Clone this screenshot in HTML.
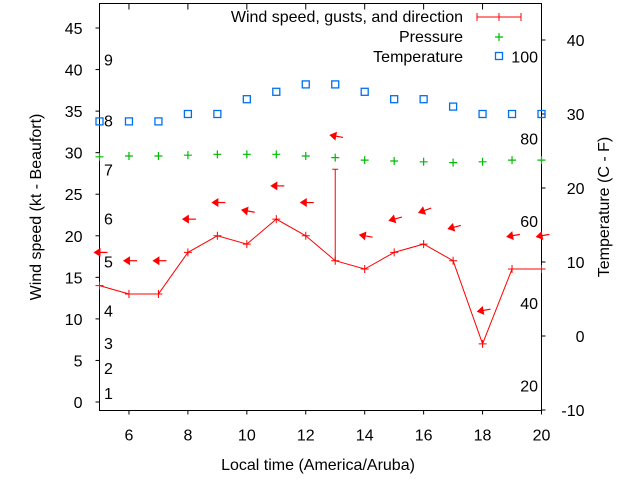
<!DOCTYPE html>
<html><head><meta charset="utf-8"><style>
body{margin:0;background:#fff}
svg{display:block;font-family:"Liberation Sans",sans-serif}
</style></head><body>
<svg id="chart" width="640" height="480" viewBox="0 0 640 480" xmlns="http://www.w3.org/2000/svg">
<rect width="640" height="480" fill="#fff"/>
<g id="grid"></g>
<g id="marks"></g>
<text x="318" y="470" font-size="16" text-anchor="middle">Local time (America/Aruba)</text>
<text transform="translate(41,207) rotate(-90)" font-size="16" text-anchor="middle">Wind speed (kt - Beaufort)</text>
<text transform="translate(609,207) rotate(-90)" font-size="16" text-anchor="middle">Temperature (C - F)</text>
<g font-size="16" text-anchor="end">
<text x="463" y="22">Wind speed, gusts, and direction</text>
<line x1="477" y1="17" x2="521" y2="17" stroke="#f00"/><line x1="477" y1="13" x2="477" y2="21" stroke="#f00"/><line x1="521" y1="13" x2="521" y2="21" stroke="#f00"/><line x1="499" y1="13" x2="499" y2="21" stroke="#f00"/>
<text x="463" y="42">Pressure</text>
<path d="M495 37h8M499 33v8" stroke="#0b0" stroke-width="1.2"/>
<text x="463" y="62">Temperature</text>
<rect x="495.5" y="52.5" width="7" height="7" fill="none" stroke="#0070f0" stroke-width="1.3"/>
</g>
</svg>
<script>
const hours=[5,6,7,8,9,10,11,12,13,14,15,16,17,18,19,20];
const windSpeed=[14,13,13,18,20,19,22,20,17,16,18,19,17,7,16,16];
const gustHour=[13];
const gustValue=[28];
const arrowLevel=[18,17,17,22,24,23,26,24,32,20,22,23,21,11,20,20];
const arrowTilt=[0,0,0,0,0,10,0,0,10,10,-15,-20,-15,-10,-10,-10];
const pressure=[29.5,29.6,29.6,29.7,29.8,29.8,29.8,29.6,29.4,29.1,29.0,28.9,28.8,28.9,29.1,29.1];
const tempC=[29,29,29,30,30,32,33,34,34,33,32,32,31,30,30,30];
const xTicks=[6,8,10,12,14,16,18,20];
const yTicks=[0,5,10,15,20,25,30,35,40,45];
const y2Ticks=[-10,0,10,20,30,40];
const beaufortLabels=["1","2","3","4","5","6","7","8","9"];
const beaufortPos=[1.1,4.1,7.1,11,16.9,22.1,28,33.9,41.2];
const fLabels=["20","40","60","80","100"];
const fPos=[20,40,60,80,100];

const L=99.5,R=541.5,T=3.5,B=410.5;
const X=h=>L+(h-5)/15*(R-L);
const Y=v=>402-v*8.311;
const Y2=c=>410-(c+10)*7.4;
const NS="http://www.w3.org/2000/svg";
const g=document.getElementById('grid'),m=document.getElementById('marks');
function mk(tag,attrs,parent){const e=document.createElementNS(NS,tag);for(const k in attrs)e.setAttribute(k,attrs[k]);parent.appendChild(e);return e;}

const frame=mk('rect',{x:L,y:T,width:R-L,height:B-T,fill:'none',stroke:'#000'},g);


xTicks.forEach(h=>{
  const x=X(h);
  mk('line',{x1:x,y1:B,x2:x,y2:B+4,stroke:'#000'},g);
  mk('line',{x1:x,y1:T,x2:x,y2:T+6,stroke:'#000'},g);
  const t=mk('text',{x:x,y:B+30,'font-size':16,'text-anchor':'middle'},g);t.textContent=h;
  
  
});
yTicks.forEach(v=>{
  const y=Y(v);
  mk('line',{x1:L-4,y1:y,x2:L,y2:y,stroke:'#000'},g);
  const t=mk('text',{x:L-17,y:y+6,'font-size':16,'text-anchor':'end'},g);t.textContent=v;
  
  
});
y2Ticks.forEach(c=>{
  const y=Y2(c);
  mk('line',{x1:R,y1:y,x2:R+4,y2:y,stroke:'#000'},g);
  const t=mk('text',{x:R+43,y:y+6,'font-size':16,'text-anchor':'end'},g);t.textContent=c;
  
  
});
beaufortLabels.forEach((s,i)=>{
  const t=mk('text',{x:104,y:Y(beaufortPos[i])+6,'font-size':16},g);t.textContent=s;
  
  
});
fLabels.forEach((s,i)=>{
  const t=mk('text',{x:538,y:Y2((fPos[i]-32)*5/9)+6,'font-size':16,'text-anchor':'end'},g);t.textContent=s;
  
  
});

const pts=hours.map((h,i)=>X(h)+','+Y(windSpeed[i])).join(' ');
const wl=mk('polyline',{points:pts,fill:'none',stroke:'#f00','stroke-width':1},m);


hours.forEach((h,i)=>{
  const x=X(h),y=Y(windSpeed[i]);
  const p=mk('path',{d:`M${x-4} ${y}h8M${x} ${y-4}v8`,stroke:'#f00'},m);
  
  
});
gustHour.forEach((h,i)=>{
  const x=X(h);
  const idx=hours.indexOf(h);
  const p=mk('path',{d:`M${x} ${Y(windSpeed[idx])}V${Y(gustValue[i])}M${x-3} ${Y(gustValue[i])}h6`,stroke:'#f00'},m);
  
  
});
hours.forEach((h,i)=>{
  const x=X(h),y=Y(arrowLevel[i]);
  const a=mk('g',{transform:`translate(${x},${y}) rotate(${arrowTilt[i]})`},m);
  
  
  mk('line',{x1:-4,y1:0,x2:8,y2:0,stroke:'#f00','stroke-width':1.2},a);
  mk('path',{d:'M-6 0L1 -4.5L1 4.5Z',fill:'#f00'},a);
});
hours.forEach((h,i)=>{
  const x=X(h),y=Y(pressure[i]);
  const p=mk('path',{d:`M${x-4} ${y}h8M${x} ${y-4}v8`,stroke:'#0b0','stroke-width':1.2},m);
  
  
});
hours.forEach((h,i)=>{
  const x=X(h),y=Y2(tempC[i]);
  const r=mk('rect',{x:x-3.5,y:y-3.5,width:7,height:7,fill:'none',stroke:'#0070f0','stroke-width':1.3},m);
  
  
});
</script>
</body></html>
